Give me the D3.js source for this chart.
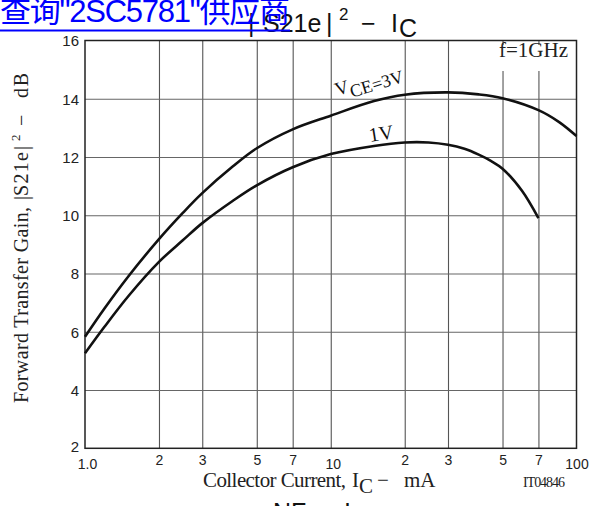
<!DOCTYPE html>
<html>
<head>
<meta charset="utf-8">
<script src="https://cdn.jsdelivr.net/npm/d3@7"></script>
<style>
  body { margin: 0; background: #fff; }
  svg { display: block; }
</style>
</head>
<body>
<svg id="chart" width="594" height="506"></svg>
<script>
// Axis ticks and labels
const yTicks = [2, 4, 6, 8, 10, 12, 14, 16];
const xTicks = [1, 2, 3, 5, 7, 10, 20, 30, 50, 70, 100];
const xTickLabels = ["1.0", "2", "3", "5", "7", "10", "2", "3", "5", "7", "100"];
const gridX = [2, 3, 5, 7, 10, 20, 30, 50, 70];
const gridY = [4, 6, 8, 10, 12, 14];

// |S21e|^2 (dB) versus collector current (mA), f = 1 GHz
const icVce3 = [1, 1.2, 1.5, 2, 2.5, 3, 4, 5, 7, 10, 15, 20, 30, 40, 50, 70, 85, 100];
const gainVce3 = [5.83, 6.8, 7.9, 9.18, 10.08, 10.76, 11.68, 12.3, 12.95, 13.42, 13.92, 14.14, 14.22, 14.15, 14.02, 13.61, 13.2, 12.72];
const icVce1 = [1, 1.2, 1.5, 2, 2.5, 3, 4, 5, 7, 10, 15, 20, 25, 30, 35, 40, 45, 50, 60, 70];
const gainVce1 = [5.26, 6.17, 7.22, 8.4, 9.14, 9.73, 10.5, 11.03, 11.65, 12.1, 12.38, 12.5, 12.5, 12.42, 12.28, 12.08, 11.86, 11.6, 10.84, 9.9];

const SANS = "'Liberation Sans', Arial, sans-serif";
const SERIF = "'Liberation Serif', 'Times New Roman', serif";

const svg = d3.select("#chart");
const x = d3.scaleLog().domain([1, 100]).range([85, 576.5]);
const y = d3.scaleLinear().domain([2, 16]).range([448.3, 40.5]);
const plotH = y(2) - y(16);
const plotW = x(100) - x(1);

// Grid
const gx = svg.append("g")
  .attr("transform", `translate(0,${y(2)})`)
  .call(d3.axisBottom(x).tickValues(gridX).tickSize(-plotH).tickFormat(""));
gx.select(".domain").remove();
gx.selectAll("line").attr("stroke", "#555").attr("stroke-width", 1.1);

const gy = svg.append("g")
  .attr("transform", `translate(${x(1)},0)`)
  .call(d3.axisLeft(y).tickValues(gridY).tickSize(-plotW).tickFormat(""));
gy.select(".domain").remove();
gy.selectAll("line").attr("stroke", "#666").attr("stroke-width", 1.1);

// Frequency note with a clear backdrop
svg.append("rect").attr("x", 491).attr("y", 45).attr("width", 84).attr("height", 26).attr("fill", "#fff");
svg.append("text").attr("x", 568).attr("y", 56.5).attr("text-anchor", "end")
  .attr("font-family", SERIF).attr("font-size", 21).attr("fill", "#222").text("f=1GHz");

// Frame
svg.append("rect").attr("x", x(1)).attr("y", y(16)).attr("width", plotW).attr("height", plotH)
  .attr("fill", "none").attr("stroke", "#222").attr("stroke-width", 1.5);

// Curves
const line = d3.line().x(d => x(d[0])).y(d => y(d[1])).curve(d3.curveCatmullRom.alpha(0.5));
svg.append("path").datum(icVce3.map((v, i) => [v, gainVce3[i]]))
  .attr("d", line).attr("fill", "none").attr("stroke", "#111").attr("stroke-width", 2.6);
svg.append("path").datum(icVce1.map((v, i) => [v, gainVce1[i]]))
  .attr("d", line).attr("fill", "none").attr("stroke", "#111").attr("stroke-width", 2.6);

// Curve labels
const l3 = svg.append("text").attr("transform", "translate(337,96) rotate(-17)")
  .attr("font-family", SERIF).attr("font-size", 19).attr("fill", "#111");
l3.append("tspan").text("V");
l3.append("tspan").attr("dy", 6).attr("font-size", 18).text("CE=3V");
svg.append("text").attr("transform", "translate(370,142) rotate(-9)")
  .attr("font-family", SERIF).attr("font-size", 20).attr("fill", "#111").text("1V");

// Y tick labels
const ay = svg.append("g")
  .attr("transform", `translate(${x(1)},0)`)
  .call(d3.axisLeft(y).tickValues(yTicks).tickSize(0).tickPadding(6));
ay.select(".domain").remove();
ay.selectAll("text").attr("font-family", SANS).attr("font-size", 15).attr("fill", "#222")
  .attr("dy", d => d === 2 ? "0.18em" : "0.36em");

// X tick labels
const ax = svg.append("g")
  .attr("transform", `translate(0,${y(2)})`)
  .call(d3.axisBottom(x).tickValues(xTicks).tickSize(0).tickFormat((d, i) => xTickLabels[i]));
ax.select(".domain").remove();
ax.selectAll("text").attr("font-family", SANS).attr("font-size", 14).attr("fill", "#222")
  .attr("dy", null).attr("y", (d, i) => (i % 5 === 0 ? 21 : 17))
  .attr("x", (d, i) => (i === 0 || i === 5 ? 2 : 0));

// Axis titles
const xt = svg.append("text").attr("font-family", SERIF).attr("font-size", 21).attr("fill", "#222");
xt.append("tspan").attr("x", 203).attr("y", 487).attr("textLength", 143).text("Collector Current,");
xt.append("tspan").attr("x", 352).attr("y", 487).text("I");
xt.append("tspan").attr("x", 359).attr("y", 493).text("C");
xt.append("tspan").attr("x", 377).attr("y", 487).text("−");
xt.append("tspan").attr("x", 404).attr("y", 487).text("mA");

svg.append("text").attr("x", 523).attr("y", 487).attr("textLength", 42)
  .attr("font-family", SERIF).attr("font-size", 14).attr("fill", "#222").text("IT04846");

const yt = svg.append("text").attr("transform", "translate(28,403) rotate(-90)")
  .attr("font-family", SERIF).attr("font-size", 20).attr("fill", "#222");
yt.append("tspan").attr("x", 0).attr("y", 0).attr("textLength", 196).text("Forward Transfer Gain,");
yt.append("tspan").attr("x", 203).attr("y", 0).text("|");
yt.append("tspan").attr("x", 207).attr("y", 0).attr("textLength", 44).text("S21e");
yt.append("tspan").attr("x", 253).attr("y", 0).text("|");
yt.append("tspan").attr("x", 262).attr("y", -8).attr("font-size", 13).text("2");
yt.append("tspan").attr("x", 277).attr("y", 0).text("−");
yt.append("tspan").attr("x", 305).attr("y", 0).attr("textLength", 25).text("dB");

// Chart title
const tt = svg.append("text").attr("font-family", SANS).attr("font-size", 25).attr("fill", "#111");
tt.append("tspan").attr("x", 248).attr("y", 31.5).text("|");
tt.append("tspan").attr("x", 263).attr("y", 31.5).text("S21e");
tt.append("tspan").attr("x", 326).attr("y", 31.5).text("|");
tt.append("tspan").attr("x", 339).attr("y", 20).attr("font-size", 17).text("2");
tt.append("tspan").attr("x", 361).attr("y", 31.5).text("−");
tt.append("tspan").attr("x", 391).attr("y", 31.5).text("I");
tt.append("tspan").attr("x", 399).attr("y", 37).text("C");

// Heading of the next chart, cut off at the bottom edge
const nt = svg.append("text").attr("font-family", SANS).attr("font-size", 25).attr("fill", "#111");
nt.append("tspan").attr("x", 273).attr("y", 521).text("NF");
nt.append("tspan").attr("x", 318).attr("y", 521).text("−");
nt.append("tspan").attr("x", 344).attr("y", 521).text("I");

// Supplier link
svg.append("text").attr("x", 0).attr("y", 22).attr("textLength", 290)
  .attr("font-family", "'Liberation Sans', 'Noto Sans CJK SC', sans-serif")
  .attr("font-size", 31).attr("fill", "#0000ff").text("查询\"2SC5781\"供应商");
svg.append("rect").attr("x", 0).attr("y", 29.5).attr("width", 290).attr("height", 2).attr("fill", "#0000ff");
</script>
</body>
</html>
